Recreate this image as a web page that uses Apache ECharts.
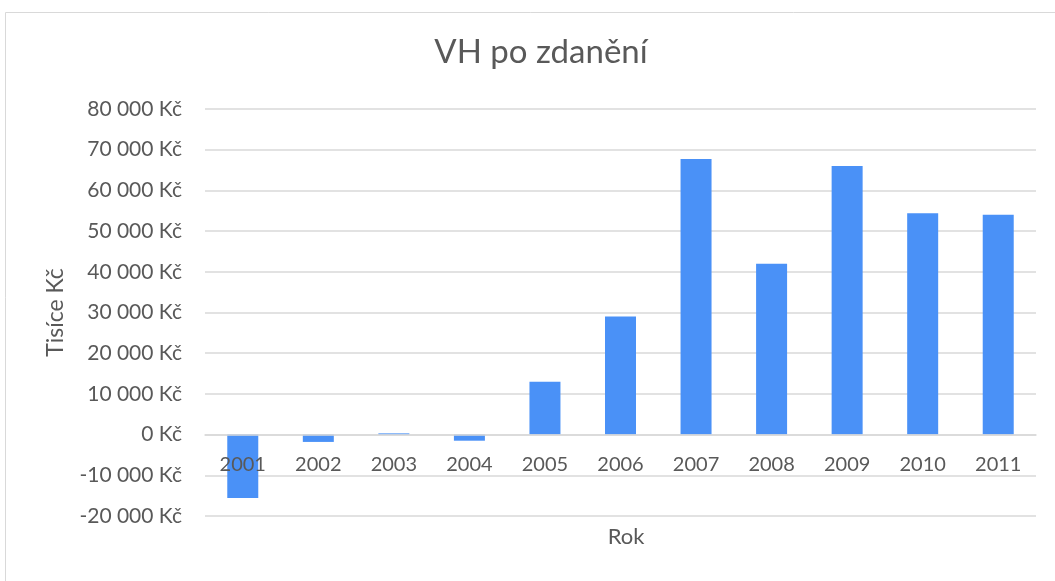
<!DOCTYPE html>
<html>
<head>
<meta charset="utf-8">
<script src="https://cdn.jsdelivr.net/npm/echarts@6/dist/echarts.min.js"></script>
<style>
  html, body { margin: 0; padding: 0; background: #ffffff; }
  #chart { width: 1055px; height: 581px; }
</style>
</head>
<body>
<div id="chart"></div>
<script>
// Výsledek hospodaření po zdanění v tisících Kč
const years = ['2001', '2002', '2003', '2004', '2005', '2006', '2007', '2008', '2009', '2010', '2011'];
const profitAfterTax = [-15600, -1800, 300, -1500, 13000, 29000, 67700, 42000, 66000, 54400, 54000];

const chartTitle = 'VH po zdanění';
const yAxisName = 'Tisíce Kč';
const xAxisName = 'Rok';

const yMin = -20000;
const yMax = 80000;
const yStep = 10000;

const textColor = '#595959';
const gridColor = '#d9d9d9';
const barColor = '#4A91F7';
const fontFamily = 'Lato, "Open Sans", sans-serif';

const grid = { left: 205, right: 19, top: 109, bottom: 65 };
const chartHeight = 581;
const plotHeight = chartHeight - grid.top - grid.bottom;
// posun osy kategorií z dolního okraje na nulovou hodnotu
const zeroOffset = -((0 - yMin) / (yMax - yMin)) * plotHeight;

function formatKc(v) {
  const sign = v < 0 ? '-' : '';
  const s = String(Math.abs(v)).replace(/\B(?=(\d{3})+(?!\d))/g, ' ');
  return sign + s + ' Kč';
}

const chart = echarts.init(document.getElementById('chart'), null, { renderer: 'canvas' });

chart.setOption({
  backgroundColor: '#ffffff',
  animation: false,
  textStyle: { fontFamily: fontFamily },
  graphic: [{
    type: 'rect',
    left: 3, top: 10,
    shape: { width: 1200, height: 700 },
    style: { fill: 'none', stroke: gridColor, lineWidth: 1 },
    silent: true
  }],
  title: [{
    text: chartTitle,
    left: 536,
    textAlign: 'center',
    top: 31,
    textStyle: { color: textColor, fontSize: 33, fontWeight: 'normal', fontFamily: fontFamily }
  }, {
    // název vodorovné osy, vycentrovaný pod plochou grafu
    text: xAxisName,
    left: 621,
    textAlign: 'center',
    top: 521,
    textStyle: { color: textColor, fontSize: 22, fontWeight: 'normal', fontFamily: fontFamily }
  }],
  grid: grid,
  xAxis: {
    type: 'category',
    data: years,
    offset: zeroOffset,
    z: 5,
    axisLine: { onZero: false, lineStyle: { color: gridColor, width: 1.5 } },
    axisTick: { show: false },
    axisLabel: { color: textColor, fontSize: 20, margin: 20, fontFamily: fontFamily }
  },
  yAxis: {
    type: 'value',
    min: yMin,
    max: yMax,
    interval: yStep,
    name: yAxisName,
    nameLocation: 'middle',
    nameGap: 138,
    nameTextStyle: { color: textColor, fontSize: 23, fontFamily: fontFamily },
    axisLine: { show: false },
    axisTick: { show: false },
    axisLabel: { color: textColor, fontSize: 21, margin: 23, formatter: formatKc, fontFamily: fontFamily },
    splitLine: { lineStyle: { color: gridColor, width: 1.5 } }
  },
  series: [{
    type: 'bar',
    data: profitAfterTax,
    barWidth: 31,
    z: 2,
    itemStyle: { color: barColor }
  }]
});
</script>
</body>
</html>
